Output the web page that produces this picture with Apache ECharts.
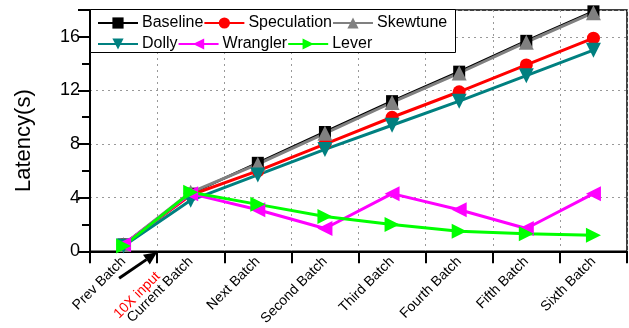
<!DOCTYPE html>
<html>
<head>
<meta charset="utf-8">
<script src="https://cdn.jsdelivr.net/npm/echarts@6/dist/echarts.min.js"></script>
<style>
  html, body { margin: 0; padding: 0; background: #fff; }
  #chart { width: 629px; height: 328px; }
</style>
</head>
<body>
<div id="chart"></div>
<script>
// Batch categories along the x axis
const categories = ['Prev Batch', 'Current Batch', 'Next Batch', 'Second Batch',
  'Third Batch', 'Fourth Batch', 'Fifth Batch', 'Sixth Batch'];

// Latency per batch, in seconds
const baseline    = [0.5, 4.3, 6.6, 8.9, 11.2, 13.4, 15.7, 17.9];
const speculation = [0.5, 4.2, 6.0, 8.0, 10.0, 11.9, 13.9, 15.9];
const skewtune    = [0.5, 4.4, 6.5, 8.8, 11.1, 13.3, 15.6, 17.8];
const dolly       = [0.4, 3.8, 5.7, 7.6, 9.4, 11.2, 13.1, 15.0];
const wrangler    = [0.5, 4.3, 3.1, 1.7, 4.3, 3.1, 1.7, 4.3];
const lever       = [0.4, 4.4, 3.5, 2.6, 2.0, 1.5, 1.3, 1.2];

// Y axis range and step
const yMin = 0, yMax = 18, yStep = 4;

const FONT = '"Liberation Sans", Arial, Helvetica, sans-serif';

function mk(name, data, color, symbol, rotate, size, width) {
  return {
    name, type: 'line', data,
    symbol, symbolRotate: rotate, symbolSize: size,
    itemStyle: { color },
    lineStyle: { color, width },
    emphasis: { disabled: true },
    animation: false
  };
}

const series = [
  mk('Baseline', baseline, '#000000', 'rect', 0, 12, 2.5),
  mk('Speculation', speculation, '#ff0000', 'circle', 0, 13, 3),
  mk('Skewtune', skewtune, '#808080', 'triangle', 0, 15, 3),
  mk('Dolly', dolly, '#008080', 'triangle', 180, 15, 3),
  mk('Wrangler', wrangler, '#ff00ff', 'triangle', 90, 15, 3),
  mk('Lever', lever, '#00ff00', 'triangle', -90, 15, 3)
];

const legendCommon = {
  orient: 'horizontal',
  itemWidth: 40, itemHeight: 14, itemGap: 0,
  padding: 0,
  textStyle: { fontFamily: FONT, fontSize: 16, color: '#000', padding: [0, 0, 0, -1] },
  selectedMode: false,
  z: 10
};

const chart = echarts.init(document.getElementById('chart'), null, { renderer: 'canvas' });

chart.setOption({
  animation: false,
  backgroundColor: '#fff',
  textStyle: { fontFamily: FONT },
  grid: {
    left: 90, right: 2, top: 10, bottom: 75,
    show: true, borderColor: '#000', borderWidth: 1.5, backgroundColor: 'transparent'
  },
  legend: [
    Object.assign({}, legendCommon, { left: 97, top: 15, data: ['Baseline', 'Speculation', 'Skewtune'] }),
    Object.assign({}, legendCommon, { left: 97, top: 36, data: ['Dolly', 'Wrangler', 'Lever'] })
  ],
  xAxis: {
    type: 'category',
    data: categories,
    boundaryGap: true,
    axisLine: { lineStyle: { color: '#000', width: 2 } },
    axisTick: { show: true, length: 12, interval: 0, lineStyle: { color: '#000', width: 2 } },
    axisLabel: { interval: 0, rotate: 45, margin: 8, fontSize: 14, color: '#000', fontFamily: FONT },
    splitLine: { show: true, interval: 0, lineStyle: { color: '#999', type: [2, 4], width: 1 } }
  },
  yAxis: {
    type: 'value',
    min: yMin, max: yMax, interval: yStep,
    name: 'Latency(s)',
    nameLocation: 'middle',
    nameGap: 55,
    nameTextStyle: { fontSize: 22, color: '#000', fontFamily: FONT, padding: [0, 20, 0, 0] },
    axisLine: { show: true, lineStyle: { color: '#000', width: 2 } },
    axisTick: { show: true, length: 12, lineStyle: { color: '#000', width: 2 } },
    minorTick: { show: true, splitNumber: 2, length: 8, lineStyle: { color: '#000', width: 2 } },
    axisLabel: { fontSize: 18, color: '#000', margin: 10, fontFamily: FONT, showMaxLabel: false },
    splitLine: { show: true, lineStyle: { color: '#999', type: [2, 4], width: 1 } }
  },
  series
});

// Legend frame, plus the "10X input" arrow placed at the boundary between
// the first two batches
function addOverlay() {
  const p0 = chart.convertToPixel({ xAxisIndex: 0 }, categories[0]);
  const p1 = chart.convertToPixel({ xAxisIndex: 0 }, categories[1]);
  const xb = (p0 + p1) / 2;
  const y0 = chart.convertToPixel({ yAxisIndex: 0 }, 0);
  const tip = [xb, y0 + 1];
  const tail = [xb - 38, y0 + 27];
  const ang = Math.atan2(tip[1] - tail[1], tip[0] - tail[0]);
  const hl = 13, hw = 6;
  const bx = tip[0] - hl * Math.cos(ang), by = tip[1] - hl * Math.sin(ang);
  const nx = -Math.sin(ang), ny = Math.cos(ang);

  chart.setOption({
    graphic: [
      {
        type: 'rect', z: 5,
        shape: { x: 90.5, y: 9.5, width: 365, height: 43 },
        style: { fill: '#fff', stroke: '#000', lineWidth: 1 }
      },
      {
        type: 'line', z: 20,
        shape: { x1: tail[0], y1: tail[1], x2: bx, y2: by },
        style: { stroke: '#000', lineWidth: 3 }
      },
      {
        type: 'polygon', z: 20,
        shape: { points: [tip, [bx + nx * hw, by + ny * hw], [bx - nx * hw, by - ny * hw]] },
        style: { fill: '#000' }
      },
      {
        type: 'text', z: 20,
        x: xb - 20, y: y0 + 44,
        rotation: Math.PI / 4,
        style: {
          text: '10X input', fill: '#ff0000', fontSize: 14, fontFamily: FONT,
          align: 'center', verticalAlign: 'middle'
        }
      }
    ]
  });
}
addOverlay();
</script>
</body>
</html>
